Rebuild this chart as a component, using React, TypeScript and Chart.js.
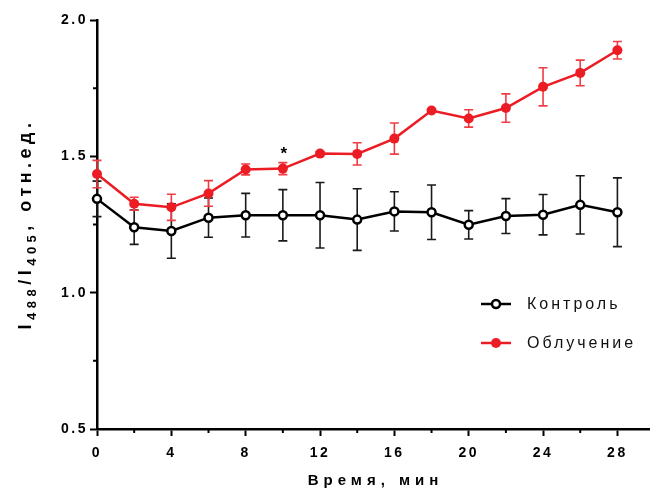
import React, { useEffect, useRef } from "react";
import { Chart, registerables } from "chart.js";

Chart.register(...registerables);

// ---- data ----
const times = [0, 2, 4, 6, 8, 10, 12, 14, 16, 18, 20, 22, 24, 26, 28];
const controlMean = [1.344, 1.24, 1.226, 1.275, 1.284, 1.284, 1.284, 1.268, 1.298, 1.295, 1.249, 1.281, 1.286, 1.322, 1.295];
const controlErr = [0.065, 0.063, 0.1, 0.072, 0.08, 0.094, 0.12, 0.113, 0.072, 0.1, 0.052, 0.064, 0.074, 0.107, 0.126];
const irradMean = [1.435, 1.326, 1.313, 1.364, 1.452, 1.455, 1.51, 1.509, 1.565, 1.668, 1.639, 1.677, 1.755, 1.806, 1.889];
const irradErr = [0.05, 0.024, 0.048, 0.047, 0.02, 0.022, 0.008, 0.041, 0.057, 0.006, 0.032, 0.052, 0.07, 0.047, 0.032];
const seriesLabels = ["Контроль", "Облучение"];
const xMajorTicks = [0, 4, 8, 12, 16, 20, 24, 28];
const xMinorTicks = [2, 6, 10, 14, 18, 22, 26];
const yMajorTicks = [0.5, 1.0, 1.5, 2.0];
const yMinorTicks = [0.75, 1.25, 1.75];
const significantTimes = [10];
const xTitle = "Время, мин";

const RED = "#ec1c24";
const RED_ERR = "#ef3d44";
const BLACK = "#000000";

const errorsByDataset = [controlErr, irradErr];
const errColors = ["#1a1a1a", RED_ERR];

const errorBarPlugin = {
  id: "errorBars",
  beforeDatasetDraw(chart: any, args: any) {
    const i = args.index;
    const errs = errorsByDataset[i];
    const ds = chart.data.datasets[i];
    const xs = chart.scales.x;
    const ys = chart.scales.y;
    const ctx = chart.ctx;
    ctx.save();
    ctx.strokeStyle = errColors[i];
    ctx.lineWidth = 1.6;
    ds.data.forEach((p: any, k: number) => {
      const x = xs.getPixelForValue(p.x);
      const yt = ys.getPixelForValue(p.y + errs[k]);
      const yb = ys.getPixelForValue(p.y - errs[k]);
      ctx.beginPath();
      ctx.moveTo(x, yt);
      ctx.lineTo(x, yb);
      ctx.moveTo(x - 4.5, yt);
      ctx.lineTo(x + 4.5, yt);
      ctx.moveTo(x - 4.5, yb);
      ctx.lineTo(x + 4.5, yb);
      ctx.stroke();
    });
    ctx.restore();
  },
};

function drawMarker(ctx: CanvasRenderingContext2D, idx: number, x: number, y: number) {
  ctx.beginPath();
  if (idx === 0) {
    ctx.arc(x, y, 4, 0, Math.PI * 2);
    ctx.fillStyle = "#fff";
    ctx.fill();
    ctx.lineWidth = 2.5;
    ctx.strokeStyle = BLACK;
    ctx.stroke();
  } else {
    ctx.arc(x, y, 5, 0, Math.PI * 2);
    ctx.fillStyle = RED;
    ctx.fill();
  }
}

const decorPlugin = {
  id: "decor",
  beforeDraw(chart: any) {
    chart.ctx.letterSpacing = "2.5px";
  },
  afterDraw(chart: any) {
    const ctx: CanvasRenderingContext2D = chart.ctx;
    const xs = chart.scales.x;
    const ys = chart.scales.y;
    const area = chart.chartArea;
    ctx.save();
    // minor ticks
    ctx.strokeStyle = BLACK;
    ctx.lineWidth = 2;
    ctx.beginPath();
    xMinorTicks.forEach((v) => {
      const x = xs.getPixelForValue(v);
      ctx.moveTo(x, area.bottom);
      ctx.lineTo(x, area.bottom + 4);
    });
    yMinorTicks.forEach((v) => {
      const y = ys.getPixelForValue(v);
      ctx.moveTo(area.left, y);
      ctx.lineTo(area.left - 4, y);
    });
    ctx.stroke();

    // significance marks
    ctx.fillStyle = BLACK;
    ctx.font = "bold 17px 'Liberation Sans', Arial, sans-serif";
    ctx.letterSpacing = "0px";
    ctx.textAlign = "center";
    ctx.textBaseline = "middle";
    significantTimes.forEach((t) => {
      const k = times.indexOf(t);
      const x = xs.getPixelForValue(t);
      const y = ys.getPixelForValue(irradMean[k] + irradErr[k]) - 8;
      ctx.fillText("*", x + 1, y);
    });

    // x title
    ctx.font = "bold 15px 'Liberation Sans', Arial, sans-serif";
    ctx.letterSpacing = "5px";
    ctx.textAlign = "center";
    ctx.textBaseline = "middle";
    ctx.fillText(xTitle, (area.left + area.right) / 2 + 2.5, 481);

    // y title with subscripts
    const pieces = [
      { t: "I", sub: false },
      { t: "488", sub: true },
      { t: "/I", sub: false },
      { t: "405", sub: true },
      { t: ", отн.ед.", sub: false },
    ];
    const mainFont = "bold 18px 'Liberation Sans', Arial, sans-serif";
    const subFont = "bold 13px 'Liberation Sans', Arial, sans-serif";
    ctx.letterSpacing = "4.5px";
    let total = 0;
    const widths = pieces.map((p) => {
      ctx.font = p.sub ? subFont : mainFont;
      const w = ctx.measureText(p.t).width;
      total += w;
      return w;
    });
    ctx.translate(31, 224);
    ctx.rotate(-Math.PI / 2);
    ctx.textAlign = "left";
    ctx.textBaseline = "alphabetic";
    let cx = -total / 2;
    pieces.forEach((p, i) => {
      ctx.font = p.sub ? subFont : mainFont;
      ctx.fillText(p.t, cx, p.sub ? 5 : 0);
      cx += widths[i];
    });
    ctx.restore();

    // legend
    ctx.save();
    const legendY = [304, 343];
    seriesLabels.forEach((lab, i) => {
      const y = legendY[i];
      ctx.strokeStyle = i === 0 ? BLACK : RED;
      ctx.lineWidth = 2.5;
      ctx.beginPath();
      ctx.moveTo(481, y);
      ctx.lineTo(511, y);
      ctx.stroke();
      drawMarker(ctx, i, 496, y);
      ctx.fillStyle = "#111";
      ctx.font = "16px 'Liberation Sans', Arial, sans-serif";
      ctx.letterSpacing = "3px";
      ctx.textAlign = "left";
      ctx.textBaseline = "middle";
      ctx.fillText(lab, 527, y + 1);
    });
    ctx.restore();
  },
};

export default function App() {
  const ref = useRef<HTMLCanvasElement>(null);
  useEffect(() => {
    document.body.style.margin = "0";
    const canvas = ref.current!;
    const tickFont = { family: "'Liberation Sans', Arial, sans-serif", size: 14, weight: "bold" as const };
    const chart = new Chart(canvas, {
      type: "line",
      data: {
        datasets: [
          {
            label: seriesLabels[0],
            data: times.map((t, i) => ({ x: t, y: controlMean[i] })),
            borderColor: BLACK,
            borderWidth: 2.5,
            pointRadius: 4,
            pointBorderWidth: 2.5,
            pointBackgroundColor: "#fff",
            pointBorderColor: BLACK,
            tension: 0,
            clip: false as any,
            order: 1,
          },
          {
            label: seriesLabels[1],
            data: times.map((t, i) => ({ x: t, y: irradMean[i] })),
            borderColor: RED,
            borderWidth: 2.5,
            pointRadius: 5,
            pointBorderWidth: 0,
            pointBackgroundColor: RED,
            pointBorderColor: RED,
            tension: 0,
            clip: false as any,
            order: 0,
          },
        ],
      },
      options: {
        animation: false,
        responsive: false,
        devicePixelRatio: 1,
        layout: { autoPadding: false, padding: { left: 0, top: 20, right: 2, bottom: 0 } },
        plugins: { legend: { display: false }, tooltip: { enabled: false } },
        scales: {
          x: {
            type: "linear",
            min: 0,
            max: 29.7,
            afterBuildTicks: (s: any) => {
              s.ticks = xMajorTicks.map((v) => ({ value: v }));
            },
            afterFit: (s: any) => {
              s.height = 63;
            },
            ticks: { color: BLACK, font: tickFont, padding: 9, maxRotation: 0, autoSkip: false },
            grid: { drawOnChartArea: false, tickLength: 7, tickWidth: 2, tickColor: BLACK },
            border: { color: BLACK, width: 2.5 },
          },
          y: {
            type: "linear",
            min: 0.5,
            max: 2.0,
            afterBuildTicks: (s: any) => {
              s.ticks = yMajorTicks.map((v) => ({ value: v }));
            },
            afterFit: (s: any) => {
              s.width = 97;
            },
            ticks: {
              color: BLACK,
              font: tickFont,
              padding: 2,
              autoSkip: false,
              callback: (v: any) => Number(v).toFixed(1),
            },
            grid: { drawOnChartArea: false, tickLength: 7, tickWidth: 2, tickColor: BLACK },
            border: { color: BLACK, width: 2.5 },
          },
        },
      },
      plugins: [errorBarPlugin, decorPlugin],
    });
    return () => chart.destroy();
  }, []);
  return (
    <div style={{ width: 651, height: 492, background: "#fff" }}>
      <canvas ref={ref} width={651} height={492} style={{ display: "block" }} />
    </div>
  );
}
